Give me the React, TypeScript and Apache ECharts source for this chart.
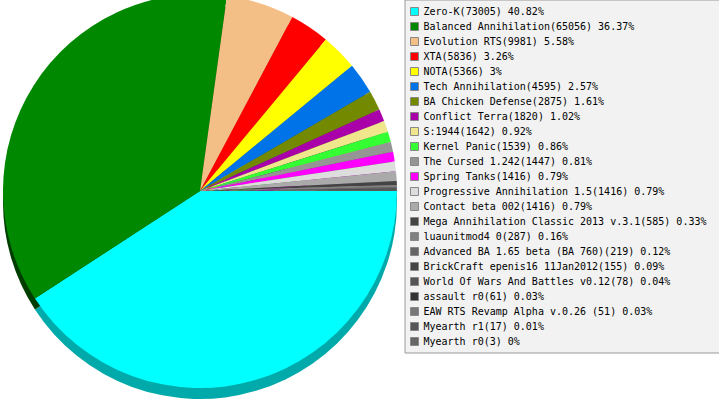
import React, { useEffect, useRef } from "react";
import * as echarts from "echarts";

const names = [
  "Zero-K",
  "Balanced Annihilation",
  "Evolution RTS",
  "XTA",
  "NOTA",
  "Tech Annihilation",
  "BA Chicken Defense",
  "Conflict Terra",
  "S:1944",
  "Kernel Panic",
  "The Cursed 1.242",
  "Spring Tanks",
  "Progressive Annihilation 1.5",
  "Contact beta 002",
  "Mega Annihilation Classic 2013 v.3.1",
  "luaunitmod4 0",
  "Advanced BA 1.65 beta (BA 760)",
  "BrickCraft epenis16 11Jan2012",
  "World Of Wars And Battles v0.12",
  "assault r0",
  "EAW RTS Revamp Alpha v.0.26 ",
  "Myearth r1",
  "Myearth r0",
];

const values = [
  73005, 65056, 9981, 5836, 5366, 4595, 2875, 1820, 1642, 1539, 1447, 1416,
  1416, 1416, 585, 287, 219, 155, 78, 61, 51, 17, 3,
];

const colors = [
  "#00ffff", "#008800", "#f4bf87", "#ff0000", "#ffff00", "#0073e8",
  "#738a00", "#aa00aa", "#f0e68c", "#33ff33", "#959595", "#ff00ff",
  "#dddddd", "#aaaaaa", "#444444", "#808080", "#666666", "#444444",
  "#555555", "#333333", "#777777", "#555555", "#666666",
];

const shadowColors = [
  "#00aaaa", "#003e00", "#a3805a", "#aa0000", "#aaaa00", "#004d9b",
  "#4d5c00", "#710071", "#a0995d", "#22aa22", "#636363", "#aa00aa",
  "#939393", "#717171", "#2d2d2d", "#555555", "#444444", "#2d2d2d",
  "#393939", "#222222", "#4f4f4f", "#393939", "#444444",
];

export default function App() {
  const ref = useRef<HTMLDivElement>(null);

  useEffect(() => {
    if (!ref.current) return;
    const chart = echarts.init(ref.current, undefined, { renderer: "svg" });
    const total = values.reduce((a, b) => a + b, 0);
    const valueOf: Record<string, number> = {};
    names.forEach((n, i) => (valueOf[n] = values[i]));

    const mainData = names.map((n, i) => ({
      name: n,
      value: values[i],
      itemStyle: { color: colors[i] },
    }));
    const shadowData = names.map((n, i) => ({
      name: "shadow " + i,
      value: values[i],
      itemStyle: { color: shadowColors[i] },
    }));

    chart.setOption({
      animation: false,
      legend: {
        data: names,
        orient: "vertical",
        left: 405,
        top: 0,
        padding: [4, 14, 4, 5],
        backgroundColor: "#f2f2f2",
        borderColor: "#999999",
        borderWidth: 1,
        itemWidth: 8,
        itemHeight: 8,
        itemGap: 0,
        icon: "rect",
        selectedMode: false,
        itemStyle: { borderColor: "#888888", borderWidth: 1 },
        textStyle: {
          fontFamily: "DejaVu Sans Mono",
          fontSize: 10,
          color: "#000000",
          lineHeight: 15,
        },
        formatter: (name: string) => {
          const v = valueOf[name];
          const pct = +((v / total) * 100).toFixed(2);
          return `${name}(${v}) ${pct}%`;
        },
      },
      series: [
        {
          type: "pie",
          z: 1,
          center: [200, 202],
          radius: 197,
          startAngle: 0,
          clockwise: true,
          silent: true,
          label: { show: false },
          labelLine: { show: false },
          itemStyle: { borderWidth: 0 },
          emphasis: { disabled: true },
          data: shadowData,
        },
        {
          type: "pie",
          z: 2,
          center: [200, 191],
          radius: 197,
          startAngle: 0,
          clockwise: true,
          label: { show: false },
          labelLine: { show: false },
          itemStyle: { borderWidth: 0 },
          emphasis: { disabled: true },
          data: mainData,
        },
      ],
    });
    return () => chart.dispose();
  }, []);

  return (
    <div
      ref={ref}
      style={{ position: "fixed", left: 0, top: 0, width: 719, height: 400, background: "#ffffff" }}
    />
  );
}
